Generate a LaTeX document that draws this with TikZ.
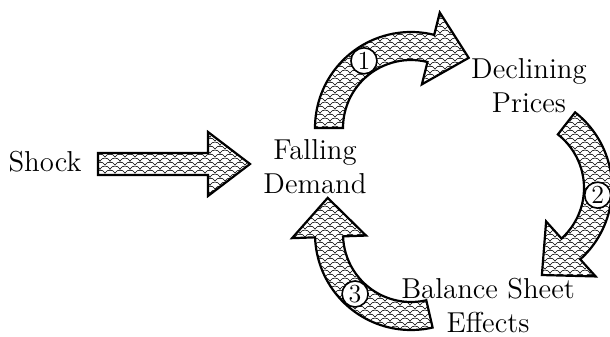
\documentclass[tikz,border=0pt]{standalone}
\usepackage{tikz}
\usetikzlibrary{calc,patterns.meta}

\tikzdeclarepattern{
  name=scales,
  type=uncolored,
  bounding box={(-0.5pt,-0.5pt) and (5.5pt,4.5pt)},
  tile size={(5pt,4pt)},
  code={
    \draw[line width=0.3pt] (0pt,0pt) .. controls (1.2pt,2pt) and (3.8pt,2pt) .. (5pt,0pt);
    \draw[line width=0.3pt] (-2.5pt,2pt) .. controls (-1.3pt,4pt) and (1.3pt,4pt) .. (2.5pt,2pt);
    \draw[line width=0.3pt] (2.5pt,2pt) .. controls (3.7pt,4pt) and (6.3pt,4pt) .. (7.5pt,2pt);
  }
}

\begin{document}
\begin{tikzpicture}[
  x=0.5pt,y=0.5pt,
  lbl/.style={align=center,inner sep=0pt,font=\fontsize{14.4}{17}\selectfont},
  blk/.style={draw=black,line width=1.1pt,line join=miter,pattern=scales},
  num/.style={circle,draw=black,line width=0.8pt,fill=white,inner sep=0pt,
              minimum size=13pt,font=\fontsize{13}{15}\selectfont},
]
\useasboundingbox (0,0) rectangle (610,337);

% text nodes
\node[lbl] (shock)   at (45,175)    {Shock};
\node[lbl] (demand)  at (315,170)   {Falling\\Demand};
\node[lbl] (prices)  at (529,251)   {Declining\\Prices};
\node[lbl] (balance) at (488,31.5)  {Balance Sheet\\Effects};

% centres of the three bends
\coordinate (c1) at (411,209);
\coordinate (c2) at (516,149);
\coordinate (c3) at (411,103);

% shock arrow
\draw[blk] (98,162) -- (208,162) -- (208,141) -- (250,173) -- (208,205)
  -- (208,184) -- (98,184) -- cycle;

% the loop
\foreach \c/\a/\b/\n/\p in {c1/180/76/1/125,c2/52/-48/2/-5,c3/-77/-178/3/-133}{
  \draw[blk] ($(\c)+(\a:96)$) arc[start angle=\a,end angle=\b,radius=96]
    -- ($(\c)+(\b:119)$) -- ($(\c)+(\b:82)+(\b-90:39)$) -- ($(\c)+(\b:45)$)
    -- ($(\c)+(\b:68)$) arc[start angle=\b,end angle=\a,radius=68] -- cycle;
  \node[num] (n\n) at ($(\c)+(\p:82)$) {\n};
}
\end{tikzpicture}
\end{document}
